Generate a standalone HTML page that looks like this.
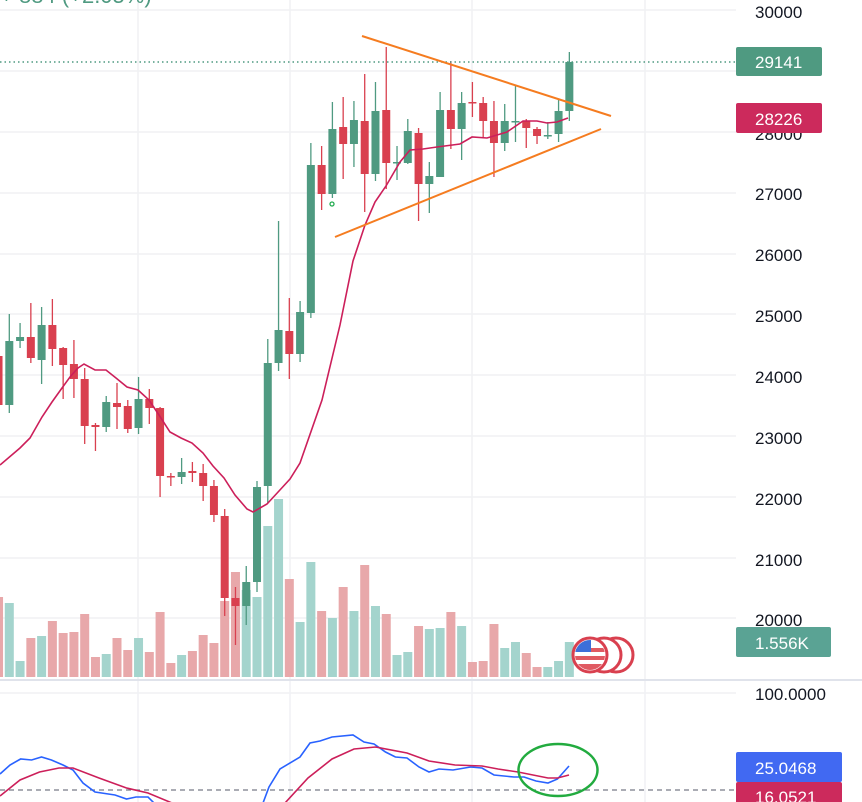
<!DOCTYPE html>
<html><head><meta charset="utf-8"><style>
html,body{margin:0;padding:0;background:#fff;width:862px;height:802px;overflow:hidden}
svg{display:block}
text{font-family:"Liberation Sans","DejaVu Sans",sans-serif}
</style></head><body>
<svg id="s" width="862" height="802" viewBox="0 0 862 802" xmlns="http://www.w3.org/2000/svg">
<defs>
<clipPath id="top"><rect x="0" y="0" width="736" height="679"/></clipPath>
<clipPath id="bot"><rect x="0" y="681" width="736" height="121"/></clipPath>
<clipPath id="fc"><circle cx="590" cy="655" r="15"/></clipPath>
</defs>
<g id="grid" stroke="#f0f1f4" stroke-width="1.5"></g>
<g id="vol" clip-path="url(#top)"></g>
<g id="cand" clip-path="url(#top)"></g>
<g clip-path="url(#top)" fill="none">
<line x1="0" y1="62" x2="736" y2="62" stroke="#4f9a81" stroke-width="1.5" stroke-dasharray="1.5,3"/>
<polyline id="ma" stroke="#cc1f5a" stroke-width="1.6" points="0,465 20,448 30,438 42,417 52,402 62,388 70,377 78,368 84,364 95,370 106,370 116,378 127,387 138,390 149,400 159,415 170,432 181,438 192,443 203,453 213,466 224,478 235,495 247,509 253,512 267,504 279,491 290,479 300,463 322,400 340,325 353,261 365,225 375,202 386,186 400,162 410,150 423,149 437,147 460,144 472,137 487,138 507,132 523,121 537,121 547,123 557,122 568,118"/>
<line x1="362" y1="36" x2="611" y2="116" stroke="#f57c20" stroke-width="2"/>
<line x1="335" y1="237" x2="601" y2="129" stroke="#f57c20" stroke-width="2"/>
<circle cx="332" cy="204" r="2" fill="none" stroke="#22ab4f" stroke-width="1.3"/>
</g>
<g id="flags">
<circle cx="616" cy="655" r="17" fill="#fff" stroke="#d9404f" stroke-width="3"/>
<circle cx="604" cy="655" r="17" fill="#fff" stroke="#d9404f" stroke-width="3"/>
<circle cx="590" cy="655" r="17" fill="#fff" stroke="#d9404f" stroke-width="3"/>
<g clip-path="url(#fc)">
<rect x="575" y="640" width="30" height="30" fill="#fff"/>
<rect x="575" y="648" width="30" height="4" fill="#e05a62"/>
<rect x="575" y="656" width="30" height="4" fill="#e05a62"/>
<rect x="575" y="664" width="30" height="6" fill="#e05a62"/>
<rect x="575" y="640" width="16" height="12" fill="#3d6fd9"/>
</g>
</g>
<line x1="0" y1="680" x2="862" y2="680" stroke="#e0e3eb" stroke-width="2"/>
<g clip-path="url(#bot)" fill="none">
<line x1="0" y1="790" x2="736" y2="790" stroke="#787b86" stroke-width="1.3" stroke-dasharray="5,4"/>
<polyline stroke="#2962ff" stroke-width="1.6" points="0,774 10,765 20.6,759 31.6,760 41.5,757 51.4,760 63,765 73,770 83,783 95,792 115,795 126.5,799 136,797 148,797 154,803"/>
<polyline stroke="#2962ff" stroke-width="1.6" points="263,803 269,787 280,769 300,757 310,743 320,741 332,737 353,735 364,742 374,744 385.5,752 395.4,757 407,758 419,767 429,772 439,769 453,770 470.5,767 482,768 494,775 514,777 524,777 536,781 548,783 557.5,779 569,766"/>
<polyline stroke="#cc1f5a" stroke-width="1.6" points="0,796 20,780 39.5,772 59,768 73,768 99,778 126.5,788 148,793 172,803"/>
<polyline stroke="#cc1f5a" stroke-width="1.6" points="285,803 308,778 332,759 354,749 375.6,747 407,753 429,761 455,765 482,766 498,769 518,772 548,778 557.5,778 569,775"/>
<ellipse cx="558" cy="770" rx="39.5" ry="26" stroke="#22ab3f" stroke-width="2.5"/>
</g>
<text x="0" y="3" font-size="22" fill="#4f9a81">+ 884 (+2.05%)</text>
<g font-size="17" fill="#131722">
<text x="755" y="18">30000</text>
<text x="755" y="140">28000</text>
<text x="755" y="200">27000</text>
<text x="755" y="261">26000</text>
<text x="755" y="322">25000</text>
<text x="755" y="383">24000</text>
<text x="755" y="444">23000</text>
<text x="755" y="505">22000</text>
<text x="755" y="566">21000</text>
<text x="755" y="626">20000</text>
<text x="755" y="700">100.0000</text>
</g>
<rect x="736" y="47" width="86" height="29" rx="2" fill="#4f9a81"/>
<text x="755" y="68" font-size="17" fill="#fff">29141</text>
<rect x="736" y="103" width="86" height="30" rx="2" fill="#cc2a5c"/>
<text x="755" y="125" font-size="17" fill="#fff">28226</text>
<rect x="736" y="627" width="95" height="30" rx="2" fill="#5aa394"/>
<text x="755" y="649" font-size="17" fill="#fff">1.556K</text>
<rect x="736" y="752" width="106" height="30" rx="2" fill="#4169f2"/>
<text x="755" y="774" font-size="17" fill="#fff">25.0468</text>
<rect x="736" y="782" width="106" height="30" rx="2" fill="#cc2a5c"/>
<text x="755" y="803" font-size="17" fill="#fff">16.0521</text>
</svg>
<script>
var NS="http://www.w3.org/2000/svg";
function el(p,t,a){var e=document.createElementNS(NS,t);for(var k in a)e.setAttribute(k,a[k]);p.appendChild(e);return e;}
var G=document.getElementById('grid');
[10,71,132,193,254,314,375,436,497,558,618,693].forEach(function(y){el(G,'line',{x1:0,y1:y,x2:736,y2:y});});
[138,290,472,645].forEach(function(x){el(G,'line',{x1:x,y1:0,x2:x,y2:679});el(G,'line',{x1:x,y1:681,x2:x,y2:802});});
var C=[[-1,356,405,350,410,'r'],[0,341,405,314,413,'g'],[1,337,341,323,348,'g'],[2,337,358,303,363,'r'],[3,325,360,307,384,'g'],[4,325,349,299,366,'r'],[5,348,365,347,399,'r'],[6,364,379,340,398,'r'],[7,379,426,368,444,'r'],[8,425,427,423,451,'r'],[9,402,427,396,432,'g'],[10,403,407,383,429,'r'],[11,406,429,400,433,'r'],[12,399,428,377,434,'g'],[13,399,408,389,424,'r'],[14,408,476,407,497,'r'],[15,476,477,473,486,'r'],[16,472,477,458,484,'g'],[17,471,473,462,482,'r'],[18,473,486,464,501,'r'],[19,486,515,480,522,'r'],[20,516,598,509,616,'r'],[21,598,606,587,645,'r'],[22,582,606,566,625,'g'],[23,487,582,481,592,'g'],[24,363,486,339,503,'g'],[25,330,363,221,371,'g'],[26,331,354,298,379,'r'],[27,312,354,301,362,'g'],[28,165,313,143,318,'g'],[29,165,194,146,210,'r'],[30,129,194,102,198,'g'],[31,127,144,97,179,'r'],[32,120,144,101,167,'g'],[33,121,174,74,212,'r'],[34,111,174,82,181,'g'],[35,110,163,47,189,'r'],[36,162,163,146,180,'g'],[37,131,163,119,164,'g'],[38,133,184,128,221,'r'],[39,176,184,162,213,'g'],[40,110,177,92,177,'g'],[41,110,129,61,149,'r'],[42,103,129,92,160,'g'],[43,102,103,82,117,'r'],[44,103,121,97,137,'r'],[45,121,143,101,177,'r'],[46,121,143,104,151,'g'],[47,121,122,85,142,'g'],[48,121,128,119,148,'r'],[49,129,136,127,144,'r'],[50,135,136,122,139,'g'],[51,111,134,100,142,'g'],[52,62,111,52,121,'g']];
var V=[[-1,597,'r'],[0,603,'g'],[1,661,'g'],[2,638,'r'],[3,636,'g'],[4,621,'r'],[5,633,'r'],[6,632,'r'],[7,614,'r'],[8,657,'r'],[9,654,'g'],[10,638,'r'],[11,650,'r'],[12,638,'g'],[13,652,'r'],[14,612,'r'],[15,663,'r'],[16,655,'g'],[17,651,'r'],[18,635,'r'],[19,643,'r'],[20,601,'r'],[21,572,'r'],[22,590,'g'],[23,597,'g'],[24,526,'g'],[25,499,'g'],[26,579,'r'],[27,622,'g'],[28,562,'g'],[29,611,'r'],[30,618,'g'],[31,587,'r'],[32,611,'g'],[33,565,'r'],[34,606,'g'],[35,614,'r'],[36,655,'g'],[37,652,'g'],[38,626,'r'],[39,629,'g'],[40,628,'g'],[41,612,'r'],[42,626,'g'],[43,662,'r'],[44,661,'r'],[45,624,'r'],[46,648,'g'],[47,642,'g'],[48,653,'r'],[49,667,'r'],[50,667,'g'],[51,661,'g'],[52,642,'g']];
function X(i){return 9.3+10.77*i;}
var VG=document.getElementById('vol'),CG=document.getElementById('cand');
V.forEach(function(v){var x=X(v[0]);el(VG,'rect',{x:x-4.5,y:v[1],width:9,height:677-v[1],fill:v[2]=='g'?'#a4d4cd':'#e8a8aa'});});
C.forEach(function(c){var x=X(c[0]),col=c[5]=='g'?'#4f9a81':'#d9404f';
el(CG,'line',{x1:x,y1:c[3],x2:x,y2:c[4],stroke:col,'stroke-width':1.3});
el(CG,'rect',{x:x-4,y:c[1],width:8,height:Math.max(1.5,c[2]-c[1]),fill:col});});
</script>
</body></html>
